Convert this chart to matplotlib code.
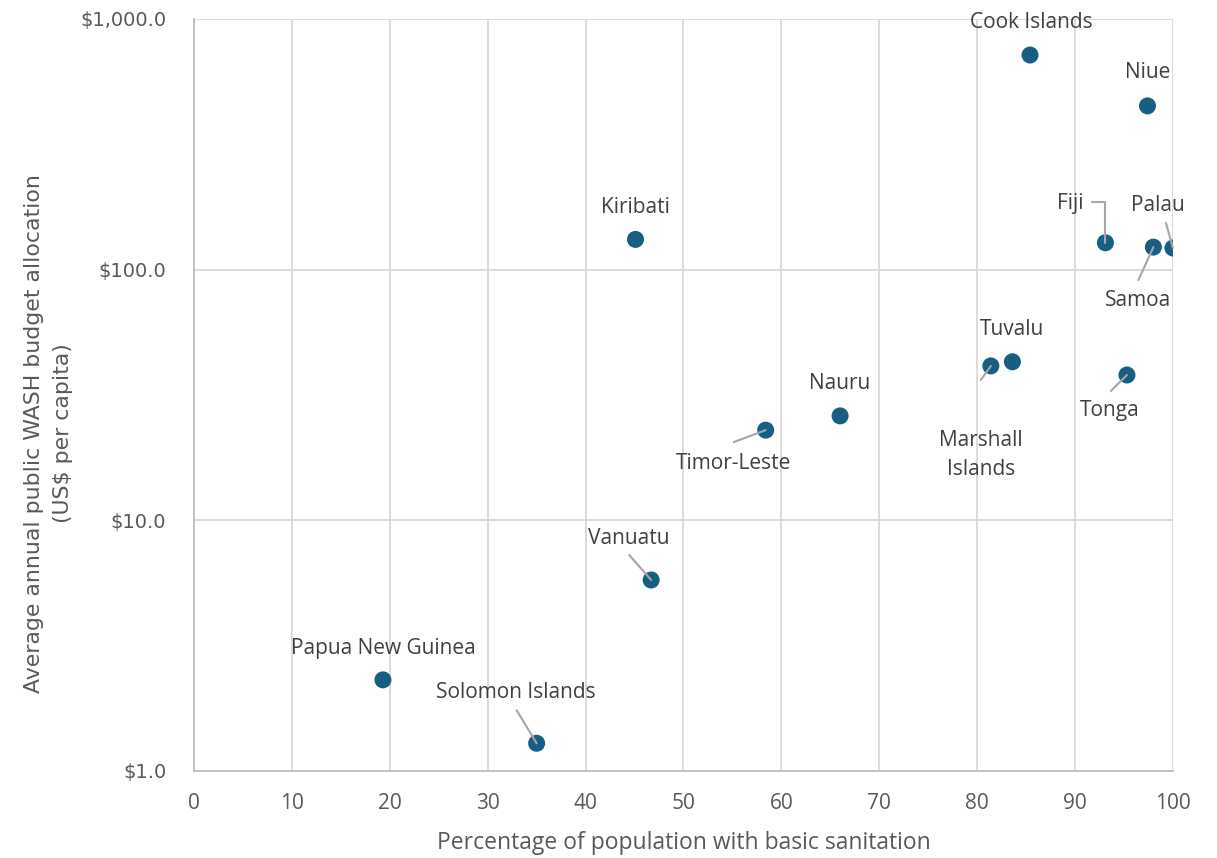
import matplotlib
matplotlib.use("Agg")
import matplotlib.pyplot as plt
from matplotlib.ticker import FuncFormatter, FixedLocator, NullLocator

countries = ["Cook Islands", "Niue", "Kiribati", "Fiji", "Samoa", "Palau",
             "Tuvalu", "Marshall\nIslands", "Tonga", "Nauru", "Timor-Leste",
             "Vanuatu", "Papua New Guinea", "Solomon Islands"]
sanitation = [85.4, 97.4, 45.1, 93.1, 98.0, 100.0,
              83.6, 81.4, 95.3, 66.0, 58.4,
              46.7, 19.3, 35.0]
wash_budget = [718, 450, 132, 128, 123, 122,
               42.9, 41.3, 38.0, 26.1, 22.9,
               5.78, 2.31, 1.29]

# label centre offset from the dot, in pixels (dx, dy up)
label_off = {
    "Cook Islands": (1, 33),
    "Niue": (0, 33),
    "Kiribati": (0, 32),
    "Fiji": (-35, 39),
    "Samoa": (-15, -53),
    "Palau": (-15, 42),
    "Tuvalu": (0, 32),
    "Marshall\nIslands": (-10, -89),
    "Tonga": (-17, -36),
    "Nauru": (0, 32),
    "Timor-Leste": (-32, -33),
    "Vanuatu": (-22, 41),
    "Papua New Guinea": (0, 31),
    "Solomon Islands": (-21, 51),
}
# leader line start, offset from the dot in pixels
leader_off = {
    "Fiji": (-13, 41),
    "Samoa": (-15, -33),
    "Palau": (-7, 25),
    "Marshall\nIslands": (-10, -14),
    "Tonga": (-16, -16),
    "Timor-Leste": (-32, -12),
    "Vanuatu": (-22, 25),
    "Solomon Islands": (-20, 33),
}

dot_color = "#175f82"
text_color = "#404040"
tick_color = "#595959"
grid_color = "#d9d9d9"
leader_color = "#a6a6a6"

plt.rcParams["font.family"] = ["Open Sans", "DejaVu Sans"]

fig = plt.figure(figsize=(12.17, 8.58), dpi=100)
ax = fig.add_axes([0.1594, 0.1014, 0.8044, 0.8765])

ax.scatter(sanitation, wash_budget, s=150, color=dot_color, zorder=3,
           edgecolors="none")

for name, x, y in zip(countries, sanitation, wash_budget):
    dx, dy = label_off[name]
    ax.annotate(name, xy=(x, y), xytext=(dx, dy), textcoords="offset pixels",
                ha="center", va="center", fontsize=15, color=text_color,
                zorder=4, linespacing=1.5)
    if name in leader_off:
        lx, ly = leader_off[name]
        style = "arc3"
        if name == "Fiji":
            style = "angle,angleA=0,angleB=90,rad=0"
        ax.annotate("", xy=(x, y), xytext=(lx, ly), textcoords="offset pixels",
                    arrowprops=dict(arrowstyle="-", color=leader_color, lw=1.5,
                                    shrinkA=0, shrinkB=0, connectionstyle=style),
                    zorder=5)

ax.set_yscale("log")
ax.set_xlim(0, 100)
ax.set_ylim(1, 1000)
ax.xaxis.set_major_locator(FixedLocator(range(0, 101, 10)))
ax.yaxis.set_major_locator(FixedLocator([1, 10, 100, 1000]))
ax.yaxis.set_minor_locator(NullLocator())
ax.yaxis.set_major_formatter(FuncFormatter(lambda v, p: "${:,.1f}".format(v)))

ax.grid(True, color=grid_color, lw=1.3, zorder=0)
ax.set_axisbelow(True)
for side in ["top", "right"]:
    ax.spines[side].set_visible(False)
for side in ["left", "bottom"]:
    ax.spines[side].set_color("#bfbfbf")
    ax.spines[side].set_linewidth(1.3)

ax.tick_params(axis="x", length=0, labelsize=15, colors=tick_color, pad=16)
ax.tick_params(axis="y", length=0, labelsize=14, colors=tick_color, pad=20)
for lbl in ax.get_yticklabels():
    lbl.set_family("DejaVu Sans")

ax.set_xlabel("Percentage of population with basic sanitation", fontsize=16.5,
              color=tick_color, labelpad=12)
ax.set_ylabel("Average annual public WASH budget allocation\n(US$ per capita)",
              fontsize=15.8, color=tick_color, linespacing=1.55,
              family="DejaVu Sans")
ax.yaxis.set_label_coords(-0.1235, 0.449)

fig.savefig("out.png", dpi=100)
